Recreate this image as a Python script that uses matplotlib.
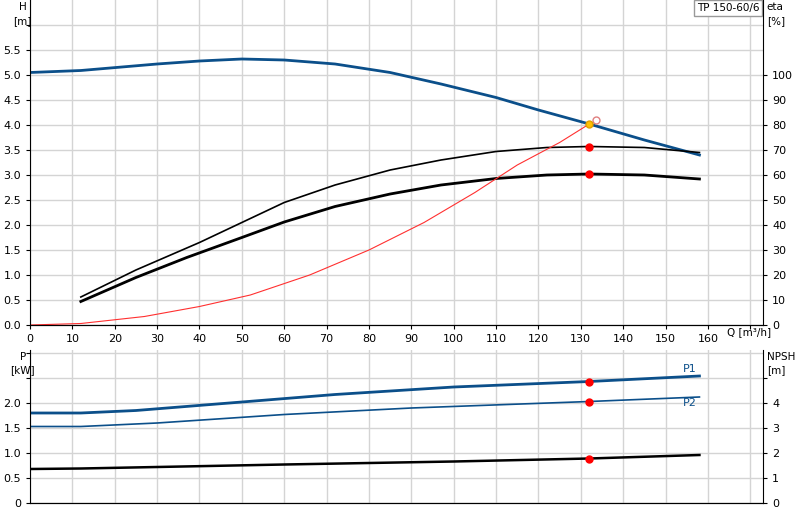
import matplotlib
matplotlib.use("Agg")
import matplotlib.pyplot as plt
import numpy as np

q_h = [0, 12, 30, 40, 50, 60, 72, 85, 97, 110, 120, 132, 145, 158]
h = [5.05, 5.09, 5.22, 5.28, 5.32, 5.30, 5.22, 5.05, 4.82, 4.55, 4.30, 4.02, 3.70, 3.40]
q_e = [12, 25, 40, 50, 60, 72, 85, 97, 110, 122, 132, 145, 158]
eta1 = [11.2, 22, 33, 41, 49, 56, 62, 66, 69.4, 71, 71.4, 71, 69]
q_e2 = [12, 25, 37, 50, 60, 72, 85, 97, 110, 122, 132, 145, 158]
eta2 = [9.4, 19, 27, 35, 41.2, 47.4, 52.4, 56, 58.6, 60, 60.4, 60, 58.4]
q_s = [0, 12, 27, 40, 52, 66, 80, 93, 105, 115, 125, 132]
h_s = [0, 0.03, 0.17, 0.37, 0.6, 1.0, 1.5, 2.05, 2.65, 3.2, 3.65, 4.02]
q_p = [0, 12, 25, 50, 72, 100, 132, 158]
p1 = [1.80, 1.80, 1.85, 2.02, 2.17, 2.32, 2.43, 2.54]
q_p2 = [0, 12, 30, 60, 90, 132, 158]
p2 = [1.53, 1.53, 1.60, 1.77, 1.90, 2.03, 2.12]
q_n = [0, 12, 60, 100, 132, 158]
npsh = [1.36, 1.38, 1.54, 1.66, 1.78, 1.92]
q_op = 132

blue = "#0b4f8a"
fig = plt.figure(figsize=(8, 5.2), dpi=100)
ax = fig.add_axes([30/800, 1-325/520, 733/800, 325/520])
axb = fig.add_axes([30/800, 1-503/520, 733/800, 153/520])
for a in (ax, axb):
    a.set_xlim(0, 173)
    a.set_xticks(np.arange(0, 171, 10))
    a.grid(True, color="#d4d4d4", lw=1)
    a.set_axisbelow(True)
    for s in ("top", "right"):
        a.spines[s].set_visible(False)
    a.spines["left"].set_color("black")
    a.tick_params(labelsize=8, length=3)
    a.set_facecolor("white")

ax.set_ylim(0, 6.5)
ax.set_yticks(np.arange(0, 6.01, 0.5))
ax.set_yticklabels([f"{v:.1f}" for v in np.arange(0, 5.51, 0.5)] + [""])
ax.set_xticklabels([str(v) for v in range(0, 161, 10)] + [""])
ax.plot(q_h, h, color=blue, lw=2)
ax.plot(q_e, np.array(eta1)/20, color="black", lw=1.2)
ax.plot(q_e2, np.array(eta2)/20, color="black", lw=2)
ax.plot(q_s, h_s, color="#ff3030", lw=0.8)
ax.plot([q_op], [np.interp(q_op, q_e, eta1)/20], "o", color="red", ms=5)
ax.plot([q_op], [np.interp(q_op, q_e2, eta2)/20], "o", color="red", ms=5)
ax.plot([133.5], [4.1], "o", mfc="white", mec="#e08080", ms=5)
ax.plot([q_op], [np.interp(q_op, q_h, h)], "o", color="#ffc000", mec="#e0a000", ms=5)
ax.text(-0.01, 0.995, "H\n[m]", transform=ax.transAxes, ha="center", va="top", fontsize=7.5, linespacing=1.5)
ax.text(164.5, -0.05, "Q [m³/h]", ha="left", va="top", fontsize=7.5)
ar = ax.twinx()
ar.set_ylim(0, 130)
ar.set_yticks(np.arange(0, 101, 10))
ar.tick_params(labelsize=8, length=3)
for s in ("top", "left"):
    ar.spines[s].set_visible(False)
ar.text(1.005, 0.995, "eta\n[%]", transform=ax.transAxes, ha="left", va="top", fontsize=7.5, linespacing=1.5)
ax.text(0.995, 0.99, "TP 150-60/6", transform=ax.transAxes, ha="right", va="top", fontsize=7.5,
        bbox=dict(boxstyle="square,pad=0.3", fc="white", ec="#999999"))

axb.set_ylim(0, 3.06)
axb.set_yticks(np.arange(0, 3.01, 0.5))
axb.set_yticklabels(["0", "0.5", "1.0", "1.5", "2.0", "", ""])
axb.set_xticklabels([])
axb.tick_params(axis="x", length=0)
axb.plot(q_p, p1, color=blue, lw=2)
axb.plot(q_p2, p2, color=blue, lw=1.2)
axb.plot(q_n, np.array(npsh)/2, color="black", lw=1.8)
for yv in (np.interp(q_op, q_p, p1), np.interp(q_op, q_p2, p2), np.interp(q_op, q_n, npsh)/2):
    axb.plot([q_op], [yv], "o", color="red", ms=5)
axb.text(154, 2.62, "P1", color=blue, fontsize=8)
axb.text(154, 1.95, "P2", color=blue, fontsize=8)
axb.text(-0.01, 0.99, "P\n[kW]", transform=axb.transAxes, ha="center", va="top", fontsize=7.5, linespacing=1.5)
br = axb.twinx()
br.set_ylim(0, 6.12)
br.set_yticks(range(0, 6))
br.set_yticklabels(["0", "1", "2", "3", "4", ""])
br.tick_params(labelsize=8, length=3)
for s in ("top", "left"):
    br.spines[s].set_visible(False)
axb.text(1.005, 0.99, "NPSH\n[m]", transform=axb.transAxes, ha="left", va="top", fontsize=7.5, linespacing=1.5)

fig.savefig("out.png", dpi=100)
